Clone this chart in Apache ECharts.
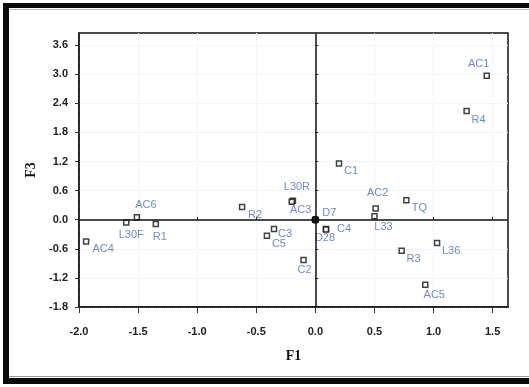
<!DOCTYPE html>
<html>
<head>
<meta charset="utf-8">
<script src="https://cdn.jsdelivr.net/npm/echarts@6/dist/echarts.min.js"></script>
<style>
  html, body { margin: 0; padding: 0; background: #ffffff; }
  #chart { width: 529px; height: 387px; }
</style>
</head>
<body>
<div id="chart"></div>
<script>
// Sample names and their scores on factors F1 (x) and F3 (y)
var names  = ['AC1', 'R4', 'C1', 'L30R', 'AC3', 'D7', 'C4', 'D28', 'AC2', 'L33', 'TQ',
              'L36', 'R3', 'AC5', 'C2', 'C3', 'C5', 'AC6', 'L30F', 'R1', 'AC4', 'R2'];
var f1Values = [1.45, 1.28, 0.20, -0.19, -0.20, 0.00, 0.09, 0.09, 0.51, 0.50, 0.77,
                1.03, 0.73, 0.93, -0.10, -0.35, -0.41, -1.51, -1.60, -1.35, -1.94, -0.62];
var f3Values = [2.97, 2.24, 1.16, 0.39, 0.37, 0.00, -0.19, -0.20, 0.23, 0.07, 0.40,
                -0.48, -0.64, -1.34, -0.83, -0.19, -0.33, 0.05, -0.06, -0.09, -0.45, 0.26];

// Axis tick labels
var f1Ticks = [-2.0, -1.5, -1.0, -0.5, 0.0, 0.5, 1.0, 1.5];
var f3Ticks = [-1.8, -1.2, -0.6, 0.0, 0.6, 1.2, 1.8, 2.4, 3.0, 3.6];

// Origin marker
var origin = [0, 0];

// Label placement (pixel offset of each label centre from its marker)
var labelOffset = {
  AC1: [-8, -12], R4: [12, 9], C1: [12, 8], L30R: [4, -14], AC3: [9, 8], D7: [14, -7],
  C4: [18, 0], D28: [-1, 9], AC2: [2, -16], L33: [9, 11], TQ: [13, 8], L36: [14, 8],
  R3: [12, 8], AC5: [9, 10], C2: [1, 10], C3: [11, 5], C5: [12, 8], AC6: [9, -12],
  L30F: [5, 12], R1: [4, 13], AC4: [17, 7], R2: [13, 8]
};

var points = names.map(function (n, i) {
  return {
    name: n,
    value: [f1Values[i], f3Values[i]],
    label: { offset: labelOffset[n] }
  };
});

var tickFont = { fontFamily: 'Liberation Sans, Arial, sans-serif', fontSize: 11, fontWeight: 'bold', color: '#222' };
var nameFont = { fontFamily: 'Liberation Serif, Times New Roman, serif', fontSize: 14, fontWeight: 'bold', color: '#111' };

function fmt(v) { return Number(v).toFixed(1); }

var chart = echarts.init(document.getElementById('chart'), null, { renderer: 'canvas' });
chart.setOption({
  animation: false,
  backgroundColor: '#ffffff',
  grid: { left: 79, top: 33, right: 21, bottom: 80, show: true, borderColor: '#111', borderWidth: 1.5, backgroundColor: 'transparent' },
  xAxis: [{
    type: 'value', min: -2.0, max: 1.63, interval: 0.5,
    name: 'F1', nameLocation: 'middle', nameGap: 42, nameTextStyle: nameFont,
    axisLine: { show: true, onZero: false, lineStyle: { color: '#111', width: 1.5 } },
    axisTick: { show: true, inside: false, length: 6, customValues: f1Ticks, lineStyle: { color: '#333' } },
    axisLabel: Object.assign({ margin: 19, customValues: f1Ticks, formatter: fmt }, tickFont),
    splitLine: { show: true, lineStyle: { color: '#ececec', type: 'dotted' } }
  }, {
    type: 'value', min: -2.0, max: 1.63, position: 'bottom',
    axisLine: { show: false },
    axisTick: { show: true, inside: true, length: 3, customValues: f1Ticks, lineStyle: { color: '#333' } },
    axisLabel: { show: false },
    splitLine: { show: false }
  }],
  yAxis: [{
    type: 'value', min: -1.8, max: 3.85, interval: 0.6,
    name: 'F3', nameLocation: 'middle', nameGap: 34, nameRotate: 90, nameTextStyle: nameFont,
    axisLine: { show: true, onZero: false, lineStyle: { color: '#111', width: 1.5 } },
    axisTick: { show: true, inside: false, length: 4, customValues: f3Ticks, lineStyle: { color: '#333' } },
    axisLabel: Object.assign({ margin: 11, customValues: f3Ticks, formatter: fmt }, tickFont),
    splitLine: { show: true, lineStyle: { color: '#ececec', type: 'dotted' } }
  }, {
    type: 'value', min: -1.8, max: 3.85, position: 'left',
    axisLine: { show: false },
    axisTick: { show: true, inside: true, length: 3, customValues: f3Ticks, lineStyle: { color: '#333' } },
    axisLabel: { show: false },
    splitLine: { show: false }
  }],
  series: [{
    type: 'scatter',
    symbol: 'rect',
    symbolSize: 5,
    itemStyle: { color: '#ffffff', borderColor: '#111', borderWidth: 1.5 },
    label: {
      show: true, position: 'inside', formatter: '{b}',
      fontFamily: 'Liberation Sans, Arial, sans-serif', fontSize: 11, color: '#4a6cc2'
    },
    markLine: {
      silent: true, symbol: 'none', animation: false,
      label: { show: false },
      lineStyle: { color: '#111', width: 1.5, type: 'solid' },
      data: [{ xAxis: 0 }, { yAxis: 0 }]
    },
    data: points,
    z: 3
  }, {
    type: 'scatter',
    symbol: 'circle',
    symbolSize: 8,
    itemStyle: { color: '#000' },
    data: [origin],
    z: 4
  }],
  graphic: [
    // Frame around the figure
    { type: 'rect', shape: { x: 3, y: 3, width: 526, height: 5 }, style: { fill: '#0a0a0a' } },
    { type: 'rect', shape: { x: 3, y: 3, width: 6, height: 381 }, style: { fill: '#0a0a0a' } },
    { type: 'rect', shape: { x: 3, y: 378, width: 526, height: 6 }, style: { fill: '#0a0a0a' } },
    { type: 'line', shape: { x1: 9, y1: 9.5, x2: 529, y2: 9.5 }, style: { stroke: '#bbb', lineWidth: 1 } },
    { type: 'line', shape: { x1: 9, y1: 376.5, x2: 529, y2: 376.5 }, style: { stroke: '#999', lineWidth: 1 } }
  ]
});
</script>
</body>
</html>
